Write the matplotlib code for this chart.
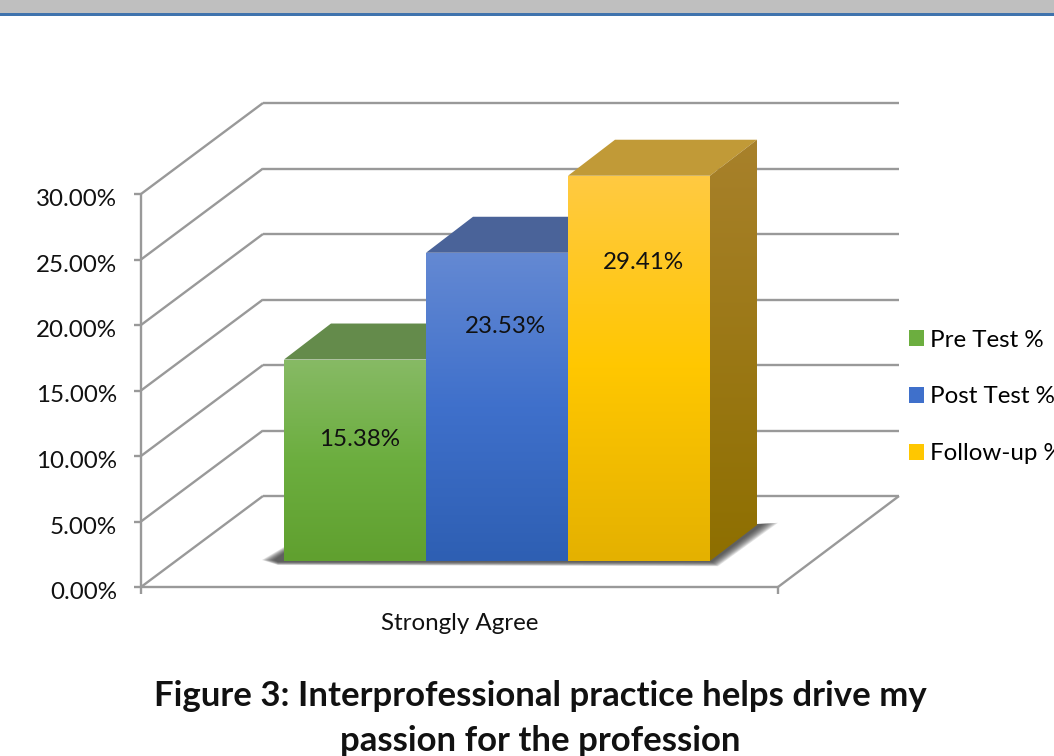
import numpy as np
import matplotlib
matplotlib.use("Agg")
import matplotlib.pyplot as plt
from matplotlib.patches import Polygon, Patch, Rectangle
from matplotlib.colors import LinearSegmentedColormap

plt.rcParams["font.family"] = ["Lato", "DejaVu Sans"]

CATEGORY = "Strongly Agree"
SERIES = ["Pre Test %", "Post Test %", "Follow-up %"]
VALUES = [15.38, 23.53, 29.41]
TICKS = [0, 5, 10, 15, 20, 25, 30]
TICK_LABELS = ["0.00%", "5.00%", "10.00%", "15.00%", "20.00%", "25.00%", "30.00%"]
TITLE = "Figure 3: Interprofessional practice helps drive my\npassion for the profession"

FRONT_COLORS = [["#87ba65", "#6cae3f", "#60a02f"],
                ["#6489d3", "#3f70cb", "#2e5fb3"],
                ["#ffca42", "#ffc700", "#e4b100"]]
TOP_COLORS = ["#648b4b", "#4a6399", "#c19a37"]
SIDE_COLORS = ["#a8812b", "#8e6f00"]
GRID = "#999999"

W, H = 1054, 756
X0, X1 = 141, 778       # front floor edge, pixels
Y0, PX_PER_PCT = 587, 13.1
WALL_DX = 122           # depth of the walls, in px
WALL_DY = 91 / PX_PER_PCT
BAR_LEFT, BAR_W = 284, 142
BAR_DX, BAR_DY = 47, 36 / PX_PER_PCT
BASE = 26 / PX_PER_PCT  # bars stand slightly behind the front edge
LABEL_DROP = [6.1, 5.6, 6.65]   # label centre below the bar top, in %
LABEL_SHIFT = [5, 8, 4]         # label centre right of the bar centre, px
PX = 1 / PX_PER_PCT

fig = plt.figure(figsize=(W / 100, H / 100), dpi=100)
ax = fig.add_axes([0, 0, 1, 1])
ax.axis("off")

# header band of the page
fig.add_artist(Rectangle((0, 1 - 13 / H), 1, 13 / H, transform=fig.transFigure, color="#bfbfbf", lw=0))
fig.add_artist(Rectangle((0, 1 - 15.5 / H), 1, 2.5 / H, transform=fig.transFigure, color="#3f73ad", lw=0))

# walls and floor
line = dict(color=GRID, lw=1.7, solid_capstyle="butt", zorder=1)
for t in TICKS:
    ax.plot([X0, X0 + WALL_DX], [t, t + WALL_DY], **line)
    ax.plot([X0 + WALL_DX, 899], [t + WALL_DY, t + WALL_DY], **line)
    ax.plot([X0 - 7, X0], [t, t], **line)
    ax.text(117, t - 5.5 * PX, TICK_LABELS[t // 5], ha="right", va="center", fontsize=17.4, color="#111111")
ax.plot([X0, X0], [-7 * PX, TICKS[-1]], **line)
ax.plot([X0, X1], [0, 0], **line)
ax.plot([X1, 899], [0, WALL_DY], **line)
ax.plot([X1, X1], [-7 * PX, 0], **line)

# soft shadow on the floor
right_end = BAR_LEFT + BAR_W * len(VALUES)
for grow in np.linspace(1, 0, 10):
    g = grow * 6
    ax.add_patch(Polygon([(BAR_LEFT - 10 - g * 2, BASE + 1 * PX),
                          (BAR_LEFT, BASE + (8 + g) * PX),
                          (right_end + BAR_DX, BASE + BAR_DY + 1 * PX),
                          (right_end + BAR_DX + 6 + g * 2.5, BASE + BAR_DY + (1 + g * 0.2) * PX),
                          (right_end + 2 + g, BASE - (1 + g * 0.7) * PX),
                          (BAR_LEFT - 6, BASE - (1 + g * 0.5) * PX)],
                         closed=True, fc="#303030", ec="none", alpha=0.13, zorder=2))

# bars
for i, (v, name) in enumerate(zip(VALUES, SERIES)):
    left = BAR_LEFT + i * BAR_W
    top = BASE + v
    right = left + BAR_W
    bar = ax.bar(left, v, BAR_W, bottom=BASE, align="edge", color="none", lw=0, zorder=5)[0]
    cmap = LinearSegmentedColormap.from_list(name, FRONT_COLORS[i])
    im = ax.imshow(np.linspace(0, 1, 256)[:, None], cmap=cmap, aspect="auto",
                   extent=(left, right, BASE, top), zorder=5)
    im.set_clip_path(bar)
    ax.add_patch(Polygon([(left, top), (left + BAR_DX, top + BAR_DY),
                          (right + BAR_DX, top + BAR_DY), (right, top)],
                         closed=True, fc=TOP_COLORS[i], ec="none", zorder=4))
    ax.text(left + BAR_W / 2 + LABEL_SHIFT[i], top - LABEL_DROP[i], f"{v:.2f}%", ha="center", va="center",
            fontsize=17.4, color="#111111", zorder=8)

# only the last bar shows its side face
last = BASE + VALUES[-1]
side = Polygon([(right_end, BASE), (right_end + BAR_DX, BASE + BAR_DY),
                (right_end + BAR_DX, last + BAR_DY), (right_end, last)],
               closed=True, fc="none", ec="none", zorder=4)
ax.add_patch(side)
side_cmap = LinearSegmentedColormap.from_list("side", SIDE_COLORS)
im = ax.imshow(np.linspace(0, 1, 256)[:, None], cmap=side_cmap, aspect="auto",
               extent=(right_end, right_end + BAR_DX, BASE, last + BAR_DY), zorder=4)
im.set_clip_path(side)
ax.set_xlim(0, W)
ax.set_ylim((Y0 - H) * PX, Y0 * PX)

# category label, legend, caption
ax.text((X0 + X1) / 2, -36 * PX, CATEGORY, ha="center", va="center", fontsize=17.4, color="#111111")
handles = [Patch(fc=c[1], ec="none", label=s) for c, s in zip(FRONT_COLORS, SERIES)]
ax.legend(handles=handles, loc="center left", bbox_to_anchor=(899 / W, (H - 397) / H),
          bbox_transform=fig.transFigure, frameon=False, fontsize=17.4, handlelength=0.63,
          handleheight=0.63, handletextpad=0.27, labelspacing=1.48, borderpad=0, borderaxespad=0.4)
fig.text(540 / W, 1 - 718.5 / H, TITLE, ha="center", va="center", fontsize=25, fontweight="bold",
         color="#111111", linespacing=1.47)

fig.savefig("out.png", dpi=100)
